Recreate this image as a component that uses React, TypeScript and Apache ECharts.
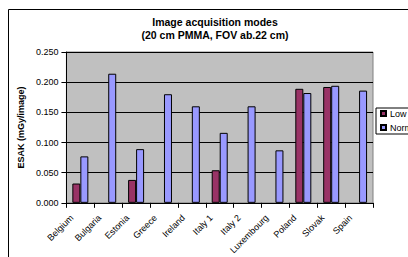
import React, { useEffect, useRef } from "react";
import * as echarts from "echarts";

const categories = ["Belgium", "Bulgaria", "Estonia", "Greece", "Ireland", "Italy 1", "Italy 2", "Luxembourg", "Poland", "Slovak", "Spain"];
const lowValues = [0.032, null, 0.038, null, null, 0.054, null, null, 0.189, 0.192, null];
const normalValues = [0.077, 0.214, 0.089, 0.180, 0.160, 0.116, 0.160, 0.087, 0.182, 0.194, 0.186];
const seriesNames = ["Low", "Normal"];
const titleLines = ["Image acquisition modes", "(20 cm PMMA, FOV ab.22 cm)"];
const yAxisName = "ESAK (mGy/image)";

const FONT = "Arial, 'Liberation Sans', sans-serif";

export default function App() {
  const ref = useRef<HTMLDivElement>(null);
  useEffect(() => {
    if (!ref.current) return;
    const chart = echarts.init(ref.current, undefined, { renderer: "svg" });
    chart.setOption({
      animation: false,
      backgroundColor: "#ffffff",
      title: {
        text: titleLines.join("\n"),
        left: 207,
        top: 7,
        padding: 0,
        textAlign: "center",
        textStyle: { fontFamily: FONT, fontSize: 10.5, fontWeight: "bold", color: "#000", lineHeight: 13 },
      },
      legend: {
        orient: "vertical",
        left: 368,
        top: 100,
        itemWidth: 5,
        itemHeight: 5,
        itemGap: 5,
        padding: [1, 20, 2, 4],
        borderColor: "#000",
        borderWidth: 1,
        backgroundColor: "#fff",
        icon: "rect",
        textStyle: { fontFamily: FONT, fontSize: 9, color: "#000", padding: [0, 0, 0, -1] },
        data: seriesNames,
      },
      graphic: [
        { type: "line", shape: { x1: 0.5, y1: 1.5, x2: 600, y2: 1.5 }, style: { stroke: "#000", lineWidth: 1 } },
        { type: "line", shape: { x1: 0.5, y1: 1.5, x2: 0.5, y2: 600 }, style: { stroke: "#000", lineWidth: 1 } },
      ],
      grid: {
        left: 52,
        top: 44,
        width: 313,
        height: 152,
        show: true,
        backgroundColor: "#C0C0C0",
        borderColor: "#808080",
        borderWidth: 1,
      },
      xAxis: {
        type: "category",
        data: categories,
        axisLine: { lineStyle: { color: "#000", width: 1 } },
        axisTick: { show: true, length: 5, lineStyle: { color: "#000" } },
        axisLabel: {
          rotate: 45,
          fontFamily: FONT,
          fontSize: 9,
          color: "#000",
          margin: 5,
          interval: 0,
          padding: [0, 12, 0, 0],
        },
      },
      yAxis: {
        type: "value",
        min: 0,
        max: 0.25,
        interval: 0.05,
        name: yAxisName,
        nameLocation: "middle",
        nameGap: 40,
        nameTextStyle: { fontFamily: FONT, fontSize: 9, fontWeight: "bold", color: "#000" },
        axisLine: { show: true, lineStyle: { color: "#000" } },
        axisTick: { show: true, length: 5, lineStyle: { color: "#000" } },
        axisLabel: { fontFamily: FONT, fontSize: 9, color: "#000", margin: 8, formatter: (v: number) => v.toFixed(3) },
        splitLine: { show: true, lineStyle: { color: "#000", width: 1 } },
      },
      series: [
        {
          name: seriesNames[0],
          type: "bar",
          data: lowValues,
          barWidth: 8,
          barGap: "0%",
          itemStyle: { color: "#993366", borderColor: "#000", borderWidth: 1 },
        },
        {
          name: seriesNames[1],
          type: "bar",
          data: normalValues,
          barWidth: 8,
          barGap: "0%",
          itemStyle: { color: "#9999FF", borderColor: "#000", borderWidth: 1 },
        },
      ],
    });
    return () => chart.dispose();
  }, []);
  return (
    <div
      ref={ref}
      style={{ position: "fixed", left: 8, top: 8, width: 400, height: 249, overflow: "hidden" }}
    />
  );
}
